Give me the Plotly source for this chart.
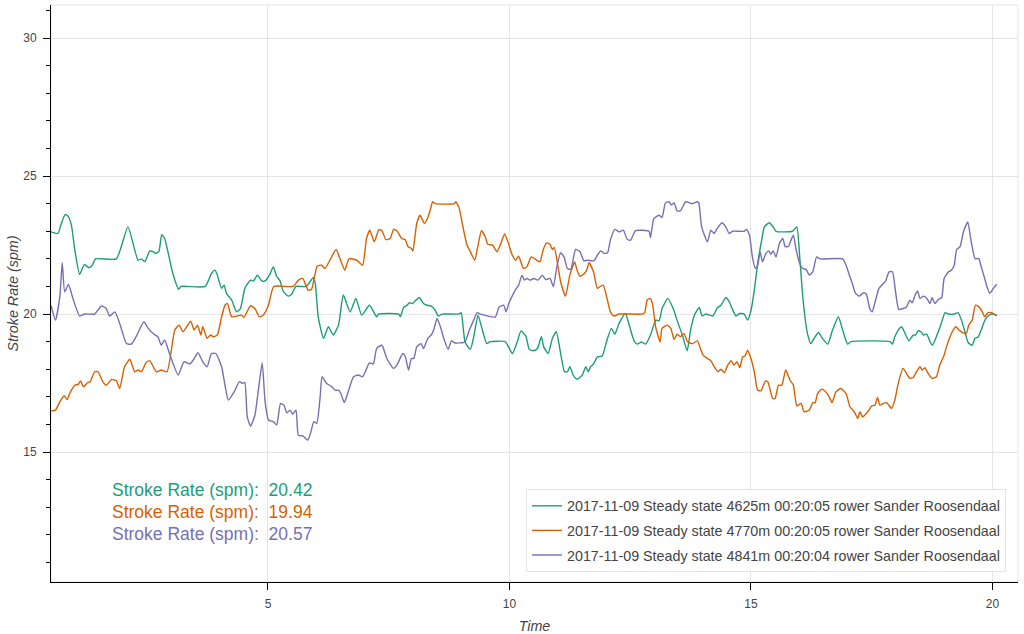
import plotly.graph_objects as go

green_t = [0.51,0.65,0.72,0.80,0.86,0.93,1.00,1.10,1.20,1.29,
1.36,1.43,1.86,2.10,2.31,2.38,2.45,2.55,2.62,2.67,
2.74,2.80,2.86,3.03,3.15,3.20,3.70,3.83,3.90,3.94,
4.04,4.09,4.14,4.25,4.35,4.43,4.52,4.64,4.70,4.78,
4.87,4.94,5.03,5.11,5.18,5.25,5.32,5.42,5.49,5.58,
5.79,5.87,5.94,5.98,6.04,6.15,6.25,6.35,6.46,6.56,
6.70,6.82,6.94,7.10,7.25,7.29,7.71,7.74,7.81,7.88,
7.93,7.99,8.13,8.22,8.29,8.38,8.45,8.53,8.60,8.95,
9.00,9.08,9.19,9.26,9.35,9.43,9.53,9.60,9.91,9.98,
10.06,10.16,10.24,10.34,10.41,10.50,10.58,10.66,10.71,10.80,
10.89,10.97,11.06,11.14,11.20,11.25,11.33,11.40,11.51,11.58,
11.63,11.68,11.74,11.82,11.92,12.02,12.11,12.18,12.27,12.40,
12.49,12.58,12.65,12.73,12.82,12.92,13.03,13.10,13.16,13.28,
13.39,13.47,13.58,13.68,13.75,13.83,13.93,13.99,14.07,14.21,
14.31,14.38,14.48,14.55,14.61,14.69,14.76,14.86,14.93,15.00,
15.07,15.14,15.21,15.28,15.38,15.46,15.52,15.86,15.95,16.01,
16.08,16.17,16.24,16.33,16.40,16.48,16.59,16.69,16.81,16.90,
17.00,17.07,17.88,17.93,17.98,18.05,18.12,18.19,18.27,18.36,
18.41,18.46,18.52,18.57,18.64,18.71,18.76,18.84,18.93,19.02,
19.09,19.21,19.29,19.36,19.43,19.50,19.58,19.64,19.71,19.78,
19.84,19.91,19.98,20.09]
green_v = [22.98,22.92,23.28,23.61,23.55,23.22,22.32,21.44,21.8,21.68,
21.77,22.0,22.0,23.16,21.95,22.0,21.9,22.28,22.26,22.2,
22.26,22.88,22.74,21.47,20.9,21.0,21.0,21.47,21.59,21.47,
20.93,21.05,20.75,20.5,20.08,20.2,20.93,21.23,21.2,21.41,
21.2,21.2,21.41,21.71,21.37,21.2,20.81,20.65,20.72,21.0,
21.0,21.17,21.33,21.1,19.9,19.12,19.54,19.24,19.6,20.69,
20.08,20.57,19.96,20.32,19.9,20.0,20.0,19.9,20.24,20.32,
20.41,20.38,20.6,20.38,20.32,20.29,20.17,19.93,20.0,20.0,
20.05,18.99,18.72,19.18,19.96,19.48,18.93,19.0,19.0,18.81,
18.57,18.99,19.39,19.2,18.72,18.67,18.75,19.18,18.81,18.57,
19.12,19.36,18.57,17.91,17.91,18.09,17.75,17.64,17.79,18.09,
17.91,18.09,18.19,18.45,18.48,19.06,19.48,19.27,19.66,20.02,
19.54,19.03,18.91,18.99,18.91,19.24,19.78,19.76,20.2,20.57,
20.2,19.78,19.24,18.67,19.42,19.96,20.24,19.93,20.0,19.93,
20.24,20.32,20.6,20.45,20.2,19.93,20.02,20.0,19.78,20.12,
20.87,21.83,22.56,23.16,23.31,23.16,23.0,23.0,23.16,22.07,
20.5,19.3,18.93,19.18,19.33,19.12,18.91,19.42,19.9,19.42,
18.91,19.0,19.0,18.91,19.18,19.42,19.54,19.3,19.03,19.24,
19.24,19.39,19.36,19.24,19.27,18.99,18.87,19.18,19.6,20.05,
20.0,20.0,20.05,19.78,19.36,18.96,18.87,19.12,19.18,19.48,
19.76,19.93,20.0,19.96]

orange_t = [0.51,0.60,0.69,0.78,0.84,0.91,1.00,1.07,1.12,1.18,
1.26,1.32,1.41,1.48,1.58,1.65,1.76,1.86,1.93,2.03,
2.14,2.24,2.31,2.38,2.48,2.55,2.69,2.79,2.91,3.07,
3.16,3.24,3.40,3.47,3.54,3.61,3.65,3.74,3.81,3.87,
3.95,4.04,4.11,4.16,4.25,4.45,4.50,4.64,4.73,4.82,
4.90,5.01,5.12,5.52,5.63,5.72,5.83,5.90,6.02,6.11,
6.18,6.41,6.49,6.59,6.68,6.84,6.96,7.04,7.11,7.20,
7.30,7.36,7.44,7.53,7.60,7.67,7.77,7.84,7.90,7.97,
8.00,8.08,8.15,8.24,8.31,8.36,8.41,8.46,8.86,8.89,
8.96,9.03,9.12,9.19,9.28,9.35,9.42,9.50,9.55,9.65,
9.74,9.81,9.90,9.98,10.05,10.13,10.19,10.29,10.36,10.45,
10.54,10.63,10.70,10.77,10.84,10.89,10.93,11.00,11.06,11.16,
11.25,11.35,11.40,11.46,11.54,11.60,11.65,11.74,11.82,11.87,
11.94,12.01,12.09,12.16,12.27,12.75,12.80,12.85,12.91,12.96,
13.03,13.12,13.16,13.27,13.34,13.41,13.47,13.54,13.61,13.69,
13.79,13.89,13.96,14.01,14.10,14.17,14.24,14.32,14.38,14.45,
14.52,14.59,14.65,14.71,14.77,14.83,14.88,14.93,15.00,15.07,
15.14,15.21,15.30,15.35,15.45,15.50,15.57,15.64,15.72,15.81,
15.88,15.95,16.04,16.10,16.21,16.28,16.33,16.38,16.47,16.55,
16.62,16.68,16.76,16.86,16.97,17.05,17.14,17.21,17.26,17.31,
17.42,17.50,17.57,17.62,17.67,17.74,17.81,17.91,17.98,18.05,
18.15,18.22,18.29,18.36,18.43,18.50,18.55,18.60,18.67,18.75,
18.84,18.91,19.00,19.05,19.11,19.17,19.24,19.31,19.38,19.46,
19.51,19.58,19.65,19.72,19.79,19.84,19.91,19.98,20.09]
orange_v = [16.49,16.52,16.82,17.04,16.9,17.18,17.42,17.45,17.58,17.36,
17.51,17.55,17.91,17.91,17.55,17.42,17.63,17.58,17.3,18.09,
18.36,17.91,17.97,17.91,18.25,18.31,17.91,17.97,17.91,19.42,
19.6,19.36,19.74,19.42,19.6,19.24,19.54,19.12,19.24,19.18,
19.24,19.9,20.32,20.38,19.9,19.96,19.88,20.3,20.2,19.9,
19.96,20.32,21.0,21.0,21.23,21.29,20.87,20.89,21.74,21.77,
21.65,22.34,22.01,21.59,22.01,21.95,21.77,22.74,23.04,22.62,
23.07,23.02,22.7,22.74,23.07,23.02,22.74,22.7,22.44,22.38,
22.28,23.28,23.58,23.28,23.5,23.77,24.07,24.0,24.0,24.07,
23.83,23.22,22.5,22.26,21.95,22.5,23.02,22.8,22.53,22.5,
22.26,22.5,22.9,22.56,22.17,21.95,22.1,21.65,21.71,22.07,
21.98,21.89,22.34,22.58,22.53,22.34,22.41,21.77,21.17,20.65,
21.41,21.89,21.59,21.37,21.45,21.59,21.86,21.53,20.93,20.99,
21.05,20.65,20.08,19.93,20.0,20.0,20.05,20.5,20.57,20.38,
19.51,18.99,19.48,19.6,19.48,19.08,19.27,19.18,19.3,18.99,
18.93,19.03,18.72,18.51,18.39,18.31,18.09,17.91,18.0,17.87,
18.15,18.31,18.15,18.27,18.06,18.45,18.48,18.69,18.39,17.91,
17.24,17.22,17.58,17.55,16.94,16.94,17.42,17.42,17.97,17.6,
17.42,16.67,16.76,16.46,16.52,16.79,16.79,17.12,17.28,17.18,
17.0,16.79,17.18,17.3,17.12,16.64,16.46,16.22,16.46,16.28,
16.46,16.67,16.7,16.98,16.7,16.76,16.79,16.58,16.88,17.49,
18.03,17.85,17.67,17.7,17.91,18.09,17.97,18.06,17.85,17.67,
17.73,18.15,18.51,18.81,19.12,19.36,19.54,19.42,19.33,19.3,
19.6,19.78,20.32,20.26,20.08,19.9,20.05,20.05,19.93]

purple_t = [0.51,0.60,0.69,0.74,0.79,0.87,0.96,1.10,1.20,1.41,
1.55,1.65,1.72,1.83,1.93,2.07,2.17,2.27,2.43,2.52,
2.64,2.72,2.79,2.86,2.96,3.14,3.26,3.38,3.45,3.55,
3.65,3.74,3.83,3.92,4.04,4.11,4.18,4.30,4.41,4.47,
4.52,4.57,4.64,4.73,4.80,4.88,4.94,5.01,5.11,5.18,
5.26,5.33,5.39,5.46,5.51,5.58,5.63,5.73,5.82,5.87,
5.95,6.01,6.08,6.12,6.21,6.32,6.39,6.46,6.51,6.58,
6.66,6.77,6.87,6.96,7.03,7.10,7.18,7.25,7.36,7.46,
7.60,7.67,7.79,7.84,7.91,7.97,8.02,8.08,8.17,8.22,
8.31,8.38,8.43,8.50,8.57,8.64,8.73,8.80,8.86,9.02,
9.08,9.17,9.26,9.33,9.40,9.71,9.78,9.88,9.93,9.99,
10.05,10.12,10.19,10.26,10.31,10.36,10.43,10.50,10.59,10.68,
10.75,10.84,10.91,10.98,11.06,11.13,11.20,11.27,11.37,11.46,
11.54,11.61,11.75,11.82,11.89,11.96,12.03,12.09,12.18,12.27,
12.36,12.44,12.51,12.61,12.89,12.92,12.99,13.10,13.16,13.23,
13.30,13.35,13.41,13.47,13.54,13.65,13.79,13.89,13.92,13.98,
14.10,14.17,14.24,14.29,14.40,14.48,14.55,14.62,14.86,14.91,
14.97,15.03,15.09,15.14,15.19,15.24,15.31,15.37,15.41,15.46,
15.52,15.59,15.66,15.71,15.78,15.83,15.88,15.93,16.00,16.07,
16.14,16.21,16.28,16.36,16.43,16.90,16.97,17.05,17.10,17.16,
17.24,17.33,17.39,17.46,17.51,17.58,17.65,17.72,17.79,17.86,
17.93,17.99,18.06,18.15,18.22,18.29,18.34,18.40,18.45,18.50,
18.57,18.64,18.71,18.75,18.81,18.88,18.95,19.00,19.09,19.15,
19.21,19.26,19.33,19.40,19.49,19.55,19.64,19.72,19.76,19.83,
19.90,19.95,20.02,20.09]
purple_v = [20.3,19.78,20.63,21.86,20.81,21.07,20.57,19.93,20.0,20.0,
20.29,20.2,19.93,20.08,19.66,18.93,18.91,19.18,19.72,19.48,
19.27,19.18,18.87,19.06,18.57,17.79,18.27,18.19,18.33,18.6,
18.27,18.09,18.57,18.57,18.09,17.42,16.88,17.18,17.55,17.49,
17.52,16.28,15.94,16.34,17.24,18.23,16.82,16.16,16.1,15.98,
16.76,16.7,16.42,16.52,16.37,16.52,15.61,15.58,15.43,15.61,
16.1,16.04,17.0,17.73,17.49,17.37,17.24,17.24,17.12,16.79,
17.18,17.73,17.79,17.73,17.97,18.23,18.19,18.75,18.87,18.39,
18.03,18.15,18.57,18.48,17.97,18.39,18.39,18.81,18.93,18.75,
19.12,19.24,19.42,19.84,19.54,19.12,18.72,19.03,18.96,18.96,
18.99,19.42,19.78,20.05,20.0,19.9,20.24,20.32,20.08,20.41,
20.63,20.87,21.05,21.41,21.23,21.29,21.23,21.29,21.23,21.41,
21.25,21.29,20.99,21.71,22.22,22.07,21.65,21.62,22.34,22.26,
21.93,21.95,21.93,22.13,22.29,22.2,22.22,22.68,23.07,22.98,
23.04,22.7,22.68,23.02,23.0,22.77,23.46,23.58,23.5,24.03,
24.07,23.95,24.03,23.74,23.74,24.07,24.0,24.07,24.03,23.16,
22.62,23.04,22.92,23.07,23.31,23.16,22.92,23.0,23.0,23.07,
22.86,22.07,21.65,21.77,22.26,21.89,22.2,22.29,22.17,22.29,
22.07,22.56,22.74,22.44,22.46,22.68,22.86,22.38,21.89,21.65,
21.62,21.41,21.53,22.07,22.0,22.0,21.77,21.35,21.11,20.77,
20.65,20.77,20.72,20.2,20.08,20.5,20.93,21.07,21.2,21.53,
21.53,20.87,20.17,20.2,20.26,20.5,20.41,20.69,20.84,20.57,
20.65,20.57,20.38,20.6,20.38,20.53,20.6,21.29,21.53,21.59,
21.77,22.34,22.44,22.98,23.34,22.74,22.01,22.01,21.77,21.35,
20.93,20.75,20.93,21.08]

series_names = [
    "2017-11-09 Steady state 4625m 00:20:05 rower Sander Roosendaal",
    "2017-11-09 Steady state 4770m 00:20:05 rower Sander Roosendaal",
    "2017-11-09 Steady state 4841m 00:20:04 rower Sander Roosendaal",
]
series_colors = ["#1b9e77", "#d95f02", "#7570b3"]
mean_label = "Stroke Rate (spm):"
mean_values = ["20.42", "19.94", "20.57"]

FONT = "Liberation Sans, Arial, Helvetica, sans-serif"

fig = go.Figure()
for i, (t, v) in enumerate([(green_t, green_v), (orange_t, orange_v), (purple_t, purple_v)]):
    fig.add_trace(go.Scatter(
        x=t, y=v, mode="lines", name=series_names[i],
        legendgroup="g%d" % i,
        line=dict(color=series_colors[i], width=1.4, shape="spline", smoothing=0.5),
        hoverinfo="x+y",
    ))

ann_y = [0.1594, 0.1213, 0.0832]
for i in range(3):
    fig.add_annotation(
        x=0.0610, y=ann_y[i], xref="paper", yref="paper",
        xanchor="left", yanchor="middle", showarrow=False,
        text=mean_label + "&nbsp;&nbsp;" + mean_values[i],
        font=dict(family=FONT, size=17.5, color=series_colors[i]),
    )

# plot outline
fig.add_shape(type="rect", xref="paper", yref="paper", x0=0, x1=1, y0=0, y1=1,
              line=dict(color="#e5e5e5", width=1), layer="below")

fig.update_layout(
    width=1024, height=634,
    margin=dict(l=51, r=6, t=5, b=52, autoexpand=False),
    paper_bgcolor="white", plot_bgcolor="white",
    font=dict(family=FONT, color="#444"),
    showlegend=True,
    legend=dict(
        x=0.9876, y=0.0173, xanchor="right", yanchor="bottom",
        bgcolor="rgba(255,255,255,0.95)", bordercolor="#e5e5e5", borderwidth=1,
        font=dict(family=FONT, size=14.3, color="#444"),
        tracegroupgap=3, traceorder="grouped",
    ),
    xaxis=dict(
        range=[0.507, 20.53], tickmode="linear", tick0=0, dtick=5,
        automargin=False,
        showgrid=True, gridcolor="#e5e5e5", gridwidth=1, zeroline=False,
        showline=True, linecolor="black", linewidth=1,
        ticks="outside", ticklen=7, tickcolor="black",
        ticklabelstandoff=4,
        tickfont=dict(family=FONT, size=12, color="#444"),
        title=dict(text="<i>Time</i>", font=dict(family=FONT, size=14.3, color="#444"), standoff=10),
    ),
    yaxis=dict(
        range=[10.29, 31.2], tickmode="linear", tick0=0, dtick=5,
        automargin=False,
        showgrid=True, gridcolor="#e5e5e5", gridwidth=1, zeroline=False,
        showline=True, linecolor="black", linewidth=1,
        ticks="outside", ticklen=7, tickcolor="black",
        ticklabelstandoff=4,
        minor=dict(dtick=1, tick0=0, ticks="outside", ticklen=4, tickcolor="black", showgrid=False),
        tickfont=dict(family=FONT, size=12, color="#444"),
        title=dict(text="<i>Stroke Rate (spm)</i>", font=dict(family=FONT, size=14.3, color="#444"), standoff=1),
    ),
)

fig.write_html("out.html", config={"displayModeBar": False})
